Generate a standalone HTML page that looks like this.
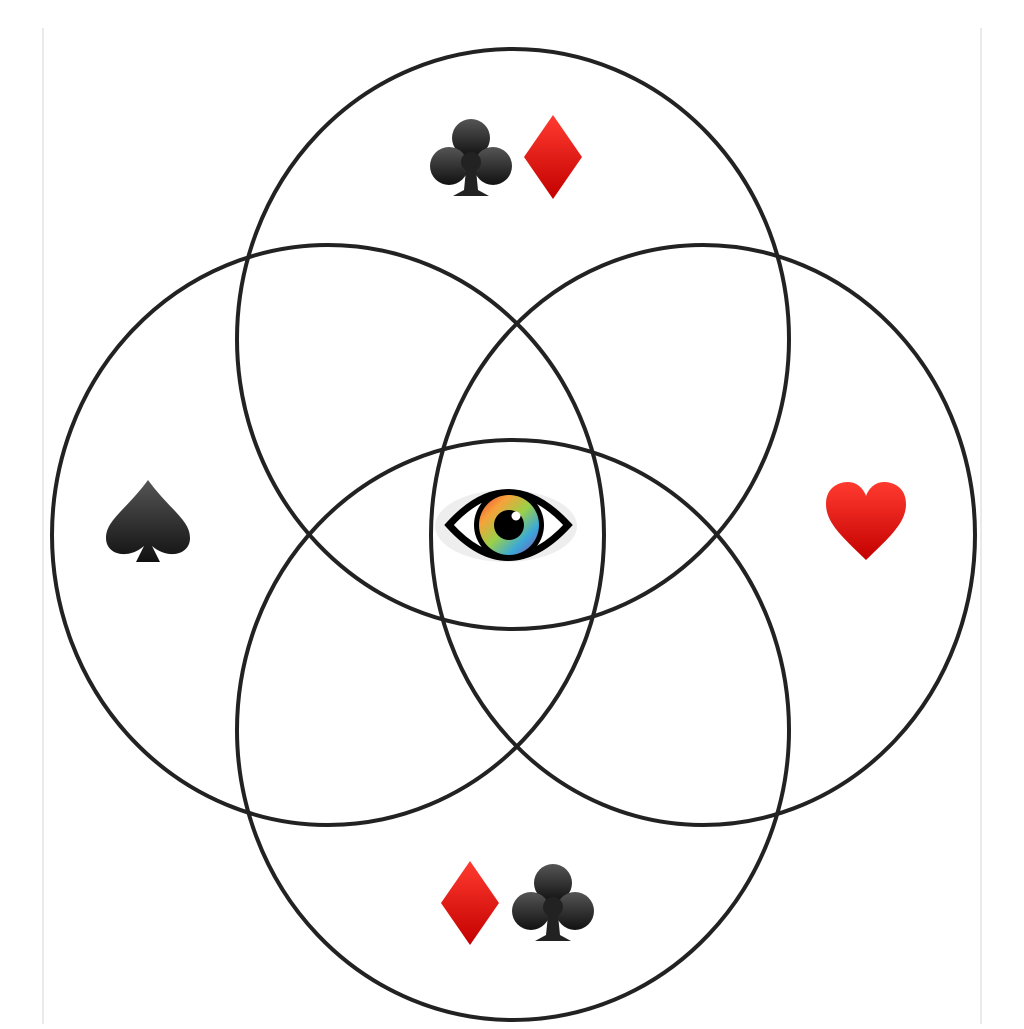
<!DOCTYPE html>
<html><head><style>body{margin:0;background:#fff}</style></head><body>
<svg width="1024" height="1024" viewBox="0 0 1024 1024" xmlns="http://www.w3.org/2000/svg">
<defs>
<linearGradient id="g1" x1="0" y1="0" x2="1" y2="1">
<stop offset="0" stop-color="#e8463a"/><stop offset="0.25" stop-color="#f7a23a"/><stop offset="0.5" stop-color="#9bd048"/><stop offset="0.75" stop-color="#3aa8d8"/><stop offset="1" stop-color="#8a4bb0"/></linearGradient>
<linearGradient id="red" x1="0" y1="0" x2="0" y2="1"><stop offset="0" stop-color="#ff3b30"/><stop offset="1" stop-color="#c40000"/></linearGradient>
<linearGradient id="blk" x1="0" y1="0" x2="0" y2="1"><stop offset="0" stop-color="#555"/><stop offset="1" stop-color="#111"/></linearGradient>
<g id="club"><circle cx="0" cy="-22" r="19" fill="url(#blk)"/><circle cx="-22" cy="6" r="19" fill="url(#blk)"/><circle cx="22" cy="6" r="19" fill="url(#blk)"/><circle cx="0" cy="2" r="10" fill="#222"/><path d="M-4 0 L4 0 L7 30 L18 36 L-18 36 L-7 30Z" fill="#222"/></g>
<g id="dia"><path d="M0 -42 L29 0 L0 42 L-29 0Z" fill="url(#red)"/></g>
</defs>
<line x1="43" y1="28" x2="43" y2="1024" stroke="#e4e4e4" stroke-width="1.5"/>
<line x1="981" y1="28" x2="981" y2="1024" stroke="#e4e4e4" stroke-width="1.5"/>
<g fill="none" stroke="#222" stroke-width="4">
<ellipse cx="513" cy="339" rx="276" ry="290"/>
<ellipse cx="328" cy="535" rx="276" ry="290"/>
<ellipse cx="703" cy="535" rx="272" ry="290"/>
<ellipse cx="513" cy="730" rx="276" ry="290"/>
</g>
<use href="#club" x="471" y="160"/>
<use href="#dia" x="553" y="157"/>
<use href="#dia" x="470" y="903"/>
<use href="#club" x="553" y="905"/>
<path d="M148 480 C170 510 190 520 190 538 C190 555 168 560 152 546 L160 562 L136 562 L144 546 C128 560 106 555 106 538 C106 520 126 510 148 480Z" fill="url(#blk)"/>
<path d="M866 560 C840 535 826 522 826 504 C826 488 838 482 848 482 C858 482 864 490 866 496 C868 490 874 482 884 482 C894 482 906 488 906 504 C906 522 892 535 866 560Z" fill="url(#red)"/>
<ellipse cx="506" cy="526" rx="71" ry="36" fill="#eeeeee"/>
<path d="M449 525 Q508 460 568 525 Q508 590 449 525Z" fill="#fff" stroke="#000" stroke-width="7"/>
<circle cx="509" cy="525" r="35" fill="#000"/>
<circle cx="509" cy="525" r="30" fill="url(#g1)"/>
<circle cx="509" cy="525" r="15" fill="#000"/>
<circle cx="516" cy="516" r="4.5" fill="#fff"/>
</svg>
</body></html>
